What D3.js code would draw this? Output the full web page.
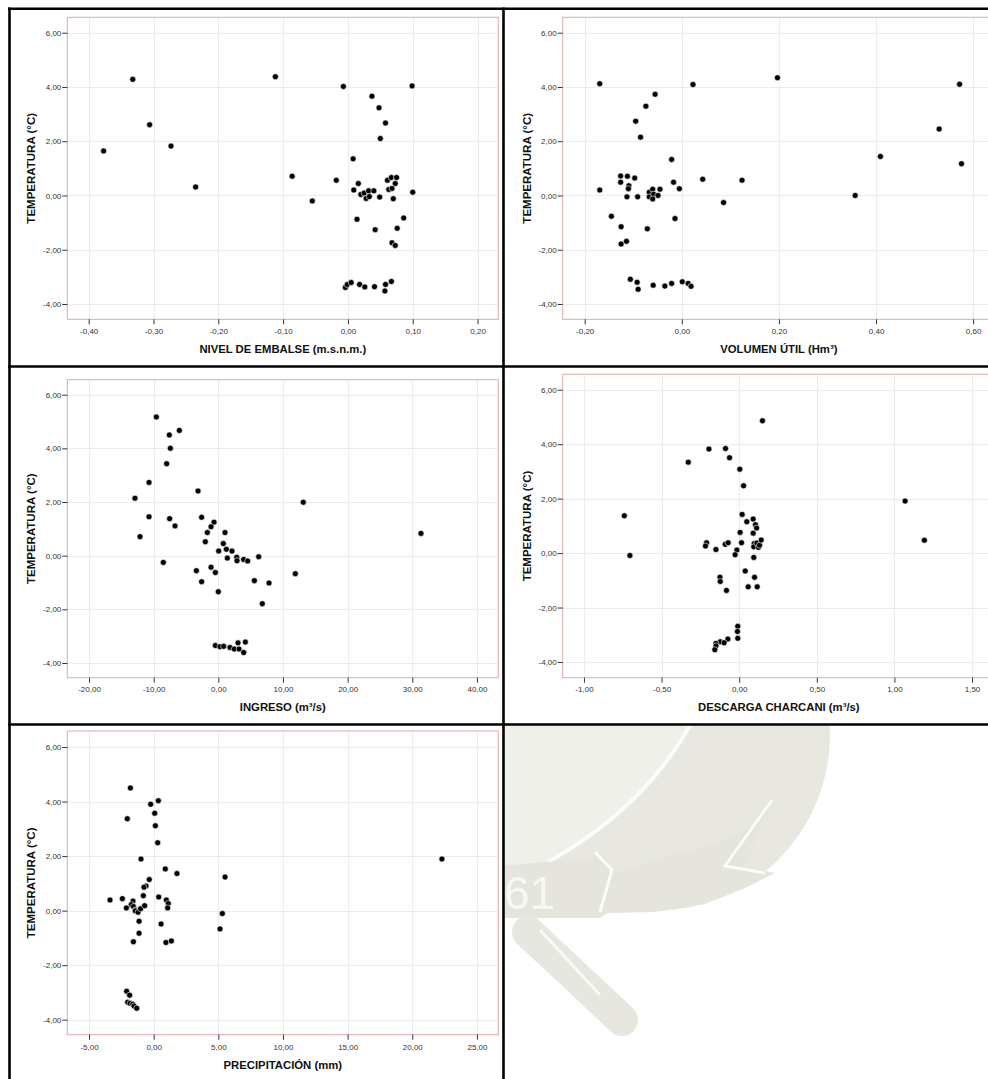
<!DOCTYPE html>
<html>
<head>
<meta charset="utf-8">
<script src="https://cdn.jsdelivr.net/npm/d3@7"></script>
<style>
  html, body { margin: 0; padding: 0; background: #fff; }
  svg { display: block; }
</style>
</head>
<body>
<svg id="chart" width="988" height="1079"></svg>
<script>
// ---------------- DATA ----------------
const yTicks = [-4, -2, 0, 2, 4, 6];
const yTitle = "TEMPERATURA (°C)";

// Panel 1: NIVEL DE EMBALSE
const nivelX = [-0.377,-0.332,-0.306,-0.273,-0.235,-0.112,-0.086,-0.055,-0.018,-0.007,0.008,0.016,0.009,0.020,0.025,0.028,0.032,0.033,0.040,0.037,0.048,0.058,0.050,0.049,0.014,0.042,0.061,0.067,0.075,0.073,0.063,0.068,0.070,0.086,0.076,0.068,0.073,0.099,0.100,-0.004,-0.001,0.005,0.018,0.026,0.041,0.058,0.067,0.057];
const nivelT = [1.64,4.28,2.61,1.82,0.31,4.38,0.71,-0.20,0.56,4.02,1.35,0.44,0.20,0.04,0.09,-0.11,0.17,-0.04,0.17,3.66,3.23,2.67,2.10,-0.06,-0.88,-1.26,0.56,0.66,0.66,0.44,0.22,0.26,-0.12,-0.83,-1.21,-1.74,-1.84,4.04,0.12,-3.39,-3.28,-3.21,-3.28,-3.37,-3.36,-3.28,-3.17,-3.52];
const nivelTicks = [-0.4,-0.3,-0.2,-0.1,0,0.1,0.2];

// Panel 2: VOLUMEN UTIL
const volumenX = [-0.169,-0.169,-0.145,-0.126,-0.126,-0.125,-0.125,-0.114,-0.112,-0.109,-0.110,-0.113,-0.097,-0.095,-0.091,-0.085,-0.074,-0.071,-0.067,-0.067,-0.060,-0.058,-0.060,-0.055,-0.049,-0.045,-0.021,-0.017,-0.014,-0.005,0.023,0.043,0.086,0.124,0.197,0.357,0.409,0.530,0.572,0.576,-0.106,-0.092,-0.090,-0.059,-0.035,-0.021,0.001,0.013,0.019];
const volumenT = [4.12,0.20,-0.77,0.72,0.49,-1.15,-1.79,-1.69,0.71,0.36,0.25,-0.05,0.64,2.74,-0.05,2.15,3.29,-1.23,0.12,-0.05,0.23,0.05,-0.13,3.73,0.00,0.23,1.33,0.49,-0.85,0.25,4.09,0.60,-0.26,0.56,4.34,0.00,1.44,2.45,4.10,1.17,-3.09,-3.20,-3.46,-3.31,-3.34,-3.24,-3.18,-3.24,-3.35];
const volumenTicks = [-0.2,0,0.2,0.4,0.6];

// Panel 3: INGRESO
const ingresoX = [-9.59,-6.03,-7.58,-7.42,-7.99,-10.72,-12.89,-3.14,-10.72,-7.53,-6.70,-12.11,-8.51,-2.58,-0.67,-1.13,-1.70,1.03,-2.01,0.77,0.05,1.24,2.11,1.39,2.84,2.89,3.92,4.54,6.24,-3.40,-1.13,-0.46,-2.58,0.00,5.57,7.84,11.91,6.80,13.14,31.34,-0.46,0.26,0.82,1.80,2.47,3.20,3.04,4.18,3.92];
const ingresoT = [5.17,4.67,4.50,4.00,3.43,2.73,2.14,2.41,1.45,1.38,1.11,0.71,-0.25,1.43,1.25,1.08,0.86,0.86,0.52,0.45,0.17,0.24,0.17,-0.09,-0.06,-0.19,-0.14,-0.20,-0.04,-0.56,-0.43,-0.63,-0.97,-1.34,-0.93,-1.02,-0.67,-1.79,1.99,0.83,-3.35,-3.39,-3.38,-3.42,-3.48,-3.48,-3.25,-3.22,-3.61];
const ingresoTicks = [-20,-10,0,10,20,30,40];

// Panel 4: DESCARGA CHARCANI
const descargaX = [0.150,-0.195,-0.088,-0.062,-0.328,0.004,0.028,-0.740,-0.704,0.019,0.090,0.049,0.105,0.112,0.006,0.090,-0.210,-0.217,-0.150,-0.090,-0.071,0.015,-0.015,-0.026,0.097,0.094,0.114,0.124,0.131,0.142,0.094,0.039,-0.124,-0.122,-0.082,0.099,0.058,0.116,1.069,1.193,-0.009,-0.011,-0.009,-0.073,-0.122,-0.097,-0.150,-0.150,-0.157];
const descargaT = [4.86,3.82,3.84,3.50,3.34,3.08,2.47,1.37,-0.09,1.42,1.25,1.15,1.04,0.92,0.76,0.73,0.38,0.26,0.13,0.32,0.38,0.38,0.11,-0.06,0.35,0.23,0.37,0.21,0.29,0.48,-0.16,-0.66,-0.89,-1.04,-1.37,-0.89,-1.24,-1.24,1.91,0.47,-2.69,-2.88,-3.13,-3.16,-3.26,-3.29,-3.32,-3.41,-3.55];
const descargaTicks = [-1,-0.5,0,0.5,1,1.5];

// Panel 5: PRECIPITACION
const precipX = [-1.80,0.36,-0.23,0.08,-2.04,0.13,0.31,-0.98,0.90,1.80,5.52,22.29,-0.34,-0.59,-0.75,-0.80,0.39,-3.38,-2.42,-1.60,-1.73,-1.57,-2.11,-1.42,-1.42,-1.21,-1.01,-0.70,0.98,1.13,1.08,-1.13,0.57,-1.13,-1.57,0.95,1.37,5.13,5.31,-2.09,-1.86,-2.01,-1.83,-1.62,-1.52,-1.31];
const precipT = [4.50,4.03,3.90,3.57,3.37,3.11,2.49,1.89,1.53,1.36,1.23,1.89,1.14,0.90,0.86,0.55,0.50,0.39,0.44,0.35,0.22,0.15,0.10,0.02,-0.01,-0.06,0.07,0.18,0.39,0.26,0.10,-0.39,-0.49,-0.83,-1.14,-1.17,-1.11,-0.67,-0.11,-2.96,-3.10,-3.36,-3.40,-3.43,-3.50,-3.58];
const precipTicks = [-5,0,5,10,15,20,25];

// ---------------- LAYOUT ----------------
const panels = [
  { xs: nivelX, ys: nivelT, xt: nivelTicks, title: "NIVEL DE EMBALSE (m.s.n.m.)",
    L: 67.3, R: 498.3, T: 17.3, B: 319.3, xd: [-0.433, 0.232], yd: [-4.564, 6.568],
    ytX: 30, tickBase: 334, titleBase: 353 },
  { xs: volumenX, ys: volumenT, xt: volumenTicks, title: "VOLUMEN ÚTIL (Hm³)",
    L: 562.7, R: 995, T: 17.3, B: 319.3, xd: [-0.2453, 0.645], yd: [-4.564, 6.568],
    ytX: 526, tickBase: 334, titleBase: 353 },
  { xs: ingresoX, ys: ingresoT, xt: ingresoTicks, title: "INGRESO (m³/s)",
    L: 67.3, R: 498.3, T: 379.7, B: 677.7, xd: [-23.36, 43.3], yd: [-4.548, 6.559],
    ytX: 30, tickBase: 692, titleBase: 711 },
  { xs: descargaX, ys: descargaT, xt: descargaTicks, title: "DESCARGA CHARCANI (m³/s)",
    L: 562.7, R: 995, T: 374.3, B: 677.7, xd: [-1.137, 1.648], yd: [-4.577, 6.566],
    ytX: 526, tickBase: 692, titleBase: 711 },
  { xs: precipX, ys: precipT, xt: precipTicks, title: "PRECIPITACIÓN (mm)",
    L: 67.3, R: 498.3, T: 731, B: 1034.7, xd: [-6.68, 26.65], yd: [-4.55, 6.587],
    ytX: 30, tickBase: 1049.5, titleBase: 1069 }
];

const locale = d3.formatLocale({ decimal: ",", thousands: ".", grouping: [3], currency: ["", ""], minus: "-" });
const fmt = locale.format(".2f");
const FONT = "'Liberation Sans', Arial, Helvetica, sans-serif";

const svg = d3.select("#chart");

// ---------------- WATERMARK (faint, bottom-right cell) ----------------
const defs = svg.append("defs");
defs.append("clipPath").attr("id", "wmclip")
  .append("rect").attr("x", 505).attr("y", 726).attr("width", 483).attr("height", 353);
const wm = svg.append("g").attr("clip-path", "url(#wmclip)");
wm.append("circle").attr("cx", 654).attr("cy", 735).attr("r", 176).attr("fill", "#e8e8e1");
wm.append("path").attr("d", "M500,720 L692,720 Q645,808 548,862 L500,872 Z").attr("fill", "#f0f0eb");
wm.append("path").attr("d", "M692,722 Q645,808 548,862").attr("fill", "none")
  .attr("stroke", "#fcfcfa").attr("stroke-width", 4);
wm.append("path")
  .attr("d", "M500,866 L592,858 L600,852 L616,872 L660,858 L712,845 L752,826 L772,800 L745,866 L775,873 L745,888 L705,904 L655,912 L608,913 L600,918 L500,918 Z")
  .attr("fill", "#e5e5dd");
wm.append("path").attr("d", "M772,800 L725,866 L765,873").attr("fill", "none")
  .attr("stroke", "#fcfcfa").attr("stroke-width", 3);
wm.append("path").attr("d", "M595,852 L612,870 L600,912").attr("fill", "none")
  .attr("stroke", "#fcfcfa").attr("stroke-width", 3);
wm.append("text").attr("x", 504).attr("y", 909).attr("font-family", FONT).attr("font-size", 46)
  .attr("fill", "#f7f7f4").text("61");
wm.append("line").attr("x1", 528).attr("y1", 932).attr("x2", 622).attr("y2", 1020)
  .attr("stroke", "#e7e7e0").attr("stroke-width", 32).attr("stroke-linecap", "round");
wm.append("line").attr("x1", 540).attr("y1", 930).attr("x2", 600).attr("y2", 995)
  .attr("stroke", "#f9f9f6").attr("stroke-width", 3);

// ---------------- PANELS ----------------
panels.forEach(p => {
  const x = d3.scaleLinear().domain(p.xd).range([p.L, p.R]);
  const y = d3.scaleLinear().domain(p.yd).range([p.B, p.T]);
  const g = svg.append("g");

  g.append("rect").attr("x", p.L).attr("y", p.T).attr("width", p.R - p.L).attr("height", p.B - p.T)
    .attr("fill", "#fff");

  g.selectAll(".gx").data(p.xt).join("line")
    .attr("x1", d => Math.round(x(d)) + 0.5).attr("x2", d => Math.round(x(d)) + 0.5)
    .attr("y1", p.T).attr("y2", p.B).attr("stroke", "#ececec").attr("stroke-width", 1);
  g.selectAll(".gy").data(yTicks).join("line")
    .attr("y1", d => Math.round(y(d)) + 0.5).attr("y2", d => Math.round(y(d)) + 0.5)
    .attr("x1", p.L).attr("x2", p.R).attr("stroke", "#ececec").attr("stroke-width", 1);

  g.append("rect").attr("x", p.L).attr("y", p.T).attr("width", p.R - p.L).attr("height", p.B - p.T)
    .attr("fill", "none").attr("stroke", "#e2a8a8").attr("stroke-width", 1);

  const yAxis = d3.axisLeft(y).tickValues(yTicks).tickSize(5).tickPadding(1).tickFormat(fmt);
  const ya = g.append("g").attr("transform", `translate(${p.L},0)`).call(yAxis);
  ya.select(".domain").remove();
  ya.selectAll(".tick line").attr("stroke", "#333");
  ya.selectAll(".tick text").attr("font-family", FONT).attr("font-size", 8).attr("fill", "#333");

  const xAxis = d3.axisBottom(x).tickValues(p.xt).tickSize(5).tickFormat(fmt);
  const xa = g.append("g").attr("transform", `translate(0,${p.B})`).call(xAxis);
  xa.select(".domain").remove();
  xa.selectAll(".tick line").attr("stroke", "#333");
  xa.selectAll(".tick text").attr("font-family", FONT).attr("font-size", 8).attr("fill", "#333")
    .attr("y", null).attr("dy", null).attr("transform", `translate(0,${p.tickBase - p.B})`);

  g.append("text").attr("x", (p.L + p.R) / 2).attr("y", p.titleBase)
    .attr("text-anchor", "middle").attr("font-family", FONT).attr("font-weight", "bold")
    .attr("font-size", 11.3).attr("fill", "#111").text(p.title);
  g.append("text")
    .attr("transform", `translate(${p.ytX + 5},${(p.T + p.B) / 2}) rotate(-90)`)
    .attr("text-anchor", "middle").attr("font-family", FONT).attr("font-weight", "bold")
    .attr("font-size", 11.5).attr("fill", "#111").text(yTitle);

  const pts = p.xs.map((v, i) => [v, p.ys[i]]);
  g.selectAll(".pt").data(pts).join("circle")
    .attr("cx", d => x(d[0])).attr("cy", d => y(d[1])).attr("r", 3)
    .attr("fill", "#000").attr("stroke", "#fff").attr("stroke-width", 0.6);
});

// ---------------- CELL BORDERS ----------------
const borders = svg.append("g").attr("stroke", "#000").attr("stroke-width", 2.6);
borders.append("line").attr("x1", 8).attr("x2", 988).attr("y1", 8.8).attr("y2", 8.8);
borders.append("line").attr("x1", 9.5).attr("x2", 9.5).attr("y1", 7.5).attr("y2", 1079);
borders.append("line").attr("x1", 503.5).attr("x2", 503.5).attr("y1", 7.5).attr("y2", 1079);
borders.append("line").attr("x1", 8).attr("x2", 988).attr("y1", 366.5).attr("y2", 366.5);
borders.append("line").attr("x1", 8).attr("x2", 988).attr("y1", 724.5).attr("y2", 724.5);
</script>
</body>
</html>
